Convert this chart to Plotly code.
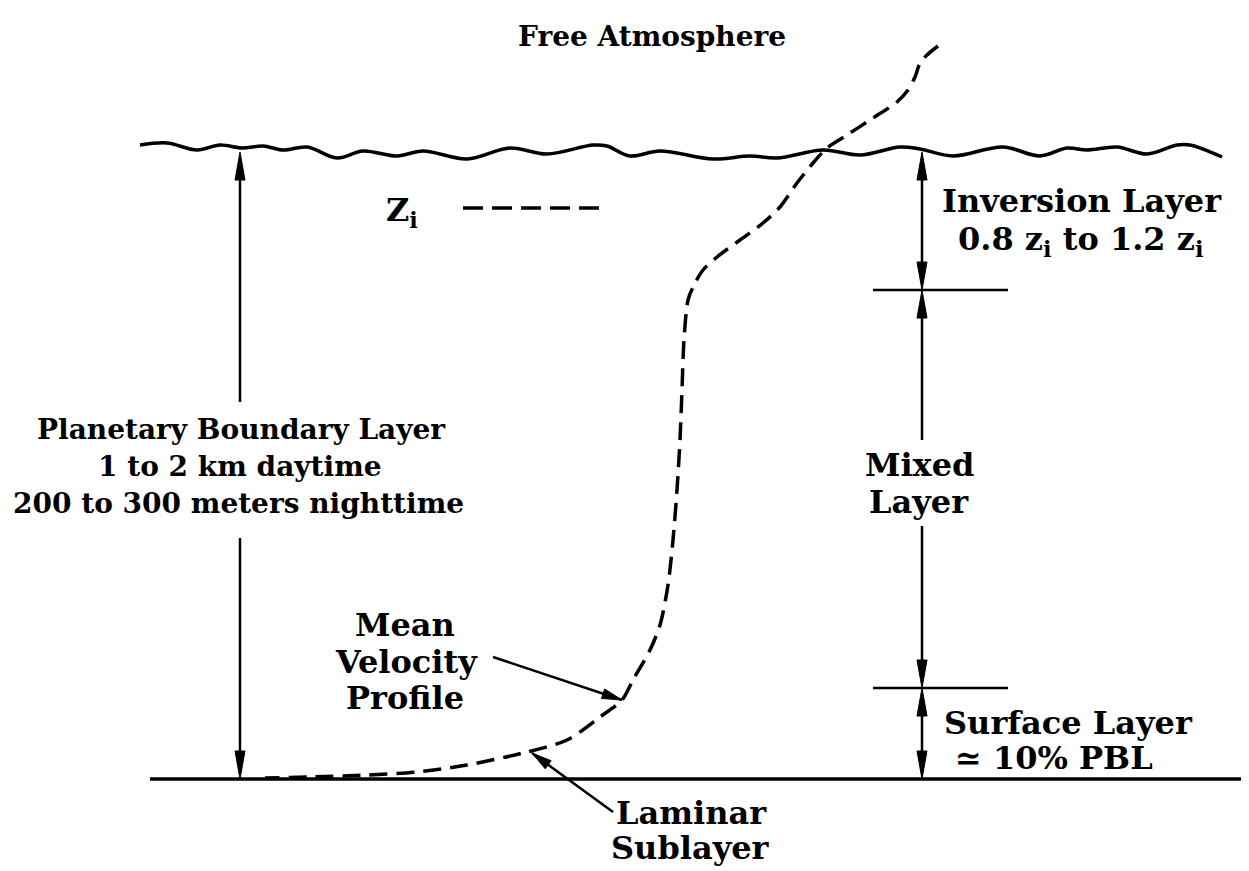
import plotly.graph_objects as go

# ---- data (pixel-space coordinates of the sketch, y grows downward) ----
wave_x = [140, 167, 197, 220, 242, 263, 283, 307, 337, 363, 397, 423, 467, 510, 547,
          593, 607, 630, 660, 713, 750, 777, 823, 860, 900, 920, 953, 1003, 1040, 1067,
          1087, 1117, 1147, 1177, 1190, 1222]
wave_y = [145, 143, 150, 145, 148, 146, 150, 147, 158, 151, 156, 151, 159, 148, 154,
          145, 146, 156, 151, 159, 156, 158, 150, 155, 147, 149, 156, 147, 156, 148,
          150, 147, 154, 145, 145, 157]

profile_x = [938, 927, 920, 915, 908, 897, 873, 847, 827, 813, 797, 780, 763, 740, 717,
             703, 693, 688, 684, 682, 680, 677, 673, 668, 660, 650, 633, 622, 600, 567,
             523, 467, 417, 367, 310, 265]
profile_y = [46, 55, 63, 77, 90, 102, 118, 135, 148, 163, 183, 207, 223, 240, 257,
             270, 287, 300, 340, 390, 440, 490, 540, 585, 625, 650, 680, 700, 717, 740,
             753, 765, 772, 775, 777, 778]

ground_y = 779
ground_x = [150, 1249]

zi_dash_x = [463, 605]
zi_dash_y = 208

pbl_x = 240
pbl_top, pbl_gap_top, pbl_gap_bot = 152, 402, 538

right_x = 922
inv_bottom = 290
surf_top = 688
mixed_gap_top, mixed_gap_bot = 440, 526
tick_x = [873, 1008]

mvp_arrow = ((493, 657), (622, 700))   # (tail, tip)
lam_arrow = ((613, 812), (532, 753))

FONT = "DejaVu Serif"
FS_PBL = 28
FS = 32
INK = "black"

# the page body has an 8px margin; shift the drawing area to compensate
PAGE_W, PAGE_H, OFF = 1249, 871, 8

fig = go.Figure()


def line(xs, ys, width=3, dash=None):
    fig.add_trace(go.Scatter(x=xs, y=ys, mode="lines", hoverinfo="skip",
                             line=dict(color=INK, width=width, dash=dash),
                             showlegend=False))


def head(tip, tail, length=28, half=5):
    tx, ty = tip
    dx, dy = tip[0] - tail[0], tip[1] - tail[1]
    n = (dx * dx + dy * dy) ** 0.5
    ux, uy = dx / n, dy / n
    bx, by = tx - ux * length, ty - uy * length
    px, py = -uy * half, ux * half
    fig.add_trace(go.Scatter(x=[tx, bx + px, bx - px, tx], y=[ty, by + py, by - py, ty],
                             mode="lines", fill="toself", fillcolor=INK,
                             line=dict(color=INK, width=1), hoverinfo="skip",
                             showlegend=False))


# wavy top of boundary layer
fig.add_trace(go.Scatter(x=wave_x, y=wave_y, mode="lines", hoverinfo="skip",
                         line=dict(color=INK, width=3.5, shape="spline", smoothing=1.0),
                         showlegend=False))
# ground
line(ground_x, [ground_y, ground_y], width=3.5)
# mean velocity profile
fig.add_trace(go.Scatter(x=profile_x, y=profile_y, mode="lines", hoverinfo="skip",
                         line=dict(color=INK, width=3.5, dash="18px,9px", shape="spline",
                                   smoothing=0.8),
                         showlegend=False))
# z_i dashed marker
line(zi_dash_x, [zi_dash_y, zi_dash_y], width=3.5, dash="20px,9px")

# PBL double arrow
line([pbl_x, pbl_x], [pbl_top + 20, pbl_gap_top], width=2.5)
line([pbl_x, pbl_x], [pbl_gap_bot, ground_y - 20], width=2.5)
head((pbl_x, pbl_top), (pbl_x, pbl_top + 50))
head((pbl_x, ground_y), (pbl_x, ground_y - 50))

# right side layer arrows
line(tick_x, [inv_bottom, inv_bottom], width=2.5)
line(tick_x, [surf_top, surf_top], width=2.5)
line([right_x, right_x], [152 + 20, inv_bottom - 20], width=2.5)
head((right_x, 152), (right_x, 200))
head((right_x, inv_bottom), (right_x, inv_bottom - 50))
line([right_x, right_x], [inv_bottom + 20, mixed_gap_top], width=2.5)
line([right_x, right_x], [mixed_gap_bot, surf_top - 20], width=2.5)
head((right_x, inv_bottom), (right_x, inv_bottom + 50))
head((right_x, surf_top), (right_x, surf_top - 50))
line([right_x, right_x], [surf_top + 20, ground_y - 20], width=2.5)
head((right_x, surf_top), (right_x, surf_top + 50))
head((right_x, ground_y), (right_x, ground_y - 50))

# pointer arrows
line([mvp_arrow[0][0], mvp_arrow[1][0]], [mvp_arrow[0][1], mvp_arrow[1][1]], width=2.5)
head(mvp_arrow[1], mvp_arrow[0], length=20, half=5)
line([lam_arrow[0][0], lam_arrow[1][0]], [lam_arrow[0][1], lam_arrow[1][1]], width=2.5)
head(lam_arrow[1], lam_arrow[0], length=20, half=5)

labels = [
    ("Free Atmosphere", 652, 36, 28),
    ("Z<sub>i</sub>", 402, 212, FS),
    ("Planetary Boundary Layer", 241, 429, FS_PBL),
    ("1 to 2 km daytime", 240, 466, FS_PBL),
    ("200 to 300 meters nighttime", 238, 503, FS_PBL),
    ("Inversion Layer", 1082, 201, FS),
    ("0.8 z<sub>i</sub> to 1.2 z<sub>i</sub>", 1080, 241, FS),
    ("Mixed", 919, 465, FS),
    ("Layer", 919, 502, FS),
    ("Surface Layer", 1068, 723, FS),
    ("≃ 10% PBL", 1054, 758, FS),
    ("Mean", 405, 625, FS),
    ("Velocity", 406, 662, FS),
    ("Profile", 405, 698, FS),
    ("Laminar", 691, 813, FS),
    ("Sublayer", 690, 848, FS),
]
for txt, x, y, fs in labels:
    fig.add_annotation(x=x, y=y, text=txt, showarrow=False, xanchor="center",
                       yanchor="middle",
                       font=dict(family=FONT, size=fs, color=INK, weight="bold"))

fig.update_xaxes(range=[OFF, PAGE_W], visible=False, fixedrange=True)
fig.update_yaxes(range=[PAGE_H, OFF], visible=False, fixedrange=True)
fig.update_layout(width=PAGE_W - OFF, height=PAGE_H - OFF,
                  margin=dict(l=0, r=0, t=0, b=0),
                  paper_bgcolor="white", plot_bgcolor="white", showlegend=False)

fig.write_html("out.html")
